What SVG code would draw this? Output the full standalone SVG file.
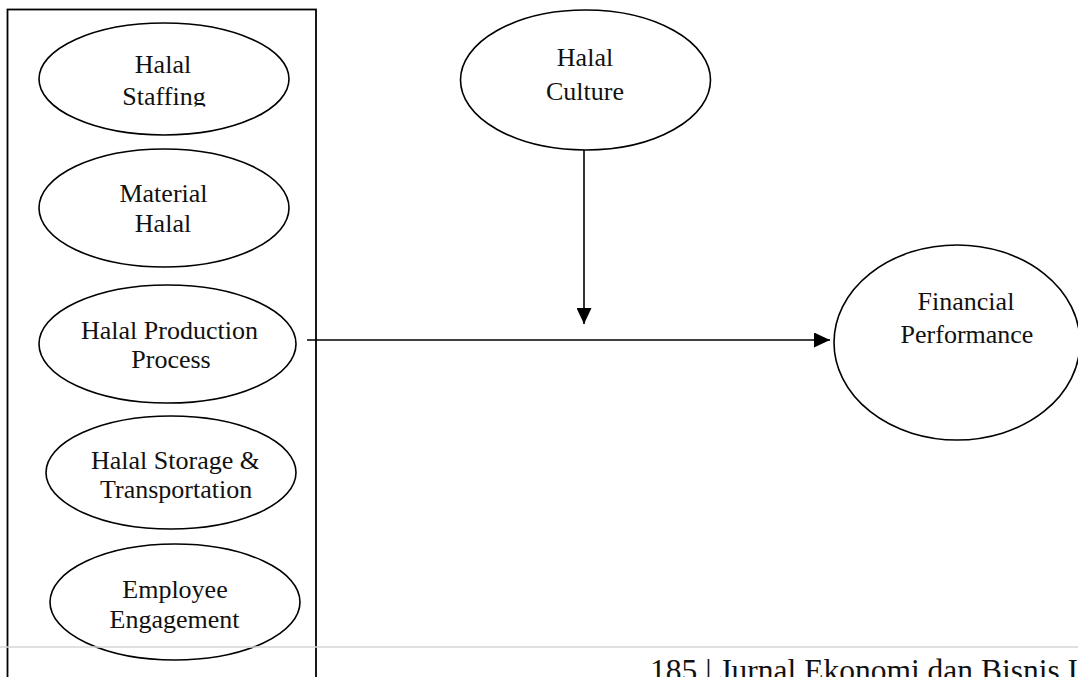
<svg xmlns="http://www.w3.org/2000/svg" width="1078" height="677" viewBox="0 0 1078 677">
<style>
.n{fill:#fff;stroke:#000;stroke-width:1.6}
.t{font-family:"Liberation Serif","Times New Roman",serif;font-size:26px;fill:#111}
.c{text-anchor:middle}
.e{stroke:#000;stroke-width:1.6;fill:none}
</style>
<defs>
<marker id="ah" markerWidth="16" markerHeight="15" refX="16" refY="7.5" orient="auto" markerUnits="userSpaceOnUse">
<path d="M0,0 L16,7.5 L0,15 Z" fill="#000"/>
</marker>
<clipPath id="clipStaff"><rect x="0" y="0" width="320" height="106.5"/></clipPath>
<clipPath id="clipProd"><rect x="0" y="0" width="258" height="677"/></clipPath>
<clipPath id="clipStor"><rect x="0" y="0" width="258.5" height="677"/></clipPath>
</defs>
<rect width="1078" height="677" fill="#fff"/>
<g id="group-box"><rect x="7.5" y="9.5" width="308.5" height="680" fill="none" stroke="#000" stroke-width="1.8"/></g>
<g id="halal-staffing">
<ellipse class="n" cx="164" cy="79" rx="125" ry="56"/>
<text class="t c" x="163" y="73">Halal</text>
<text class="t c" x="164" y="105" clip-path="url(#clipStaff)">Staffing</text>
</g>
<g id="material-halal">
<ellipse class="n" cx="164" cy="208" rx="125" ry="59"/>
<text class="t c" x="163.5" y="202">Material</text>
<text class="t c" x="163" y="232">Halal</text>
</g>
<g id="halal-production">
<ellipse class="n" cx="167.5" cy="344" rx="128.5" ry="59"/>
<text class="t" x="81" y="339" clip-path="url(#clipProd)">Halal Production</text>
<text class="t c" x="171" y="368">Process</text>
</g>
<g id="halal-storage">
<ellipse class="n" cx="171" cy="472.5" rx="125" ry="56.5"/>
<text class="t" x="91" y="469" clip-path="url(#clipStor)">Halal Storage &amp;</text>
<text class="t" x="100" y="498">Transportation</text>
</g>
<g id="employee-engagement">
<ellipse class="n" cx="175" cy="602" rx="125" ry="58"/>
<text class="t c" x="175" y="598">Employee</text>
<text class="t c" x="174.5" y="628">Engagement</text>
</g>
<g id="halal-culture">
<ellipse class="n" cx="585.5" cy="80" rx="125" ry="70"/>
<text class="t c" x="585" y="66">Halal</text>
<text class="t c" x="585" y="100">Culture</text>
</g>
<g id="financial-performance">
<ellipse class="n" cx="957" cy="342.5" rx="123" ry="97.5"/>
<text class="t c" x="966" y="310">Financial</text>
<text class="t c" x="967" y="343">Performance</text>
</g>
<g id="connectors">
<line class="e" x1="584" y1="150" x2="584" y2="324" marker-end="url(#ah)"/>
<line class="e" x1="307" y1="340" x2="830" y2="340" marker-end="url(#ah)"/>
</g>
<g id="footer">
<line x1="0" y1="647" x2="1078" y2="647" stroke="#d6d6d6" stroke-width="1.6"/>
<text x="650" y="681" font-family="'Liberation Serif','Times New Roman',serif" font-size="31.5" fill="#111">185 | Jurnal Ekonomi dan Bisnis I</text>
</g>
</svg>
